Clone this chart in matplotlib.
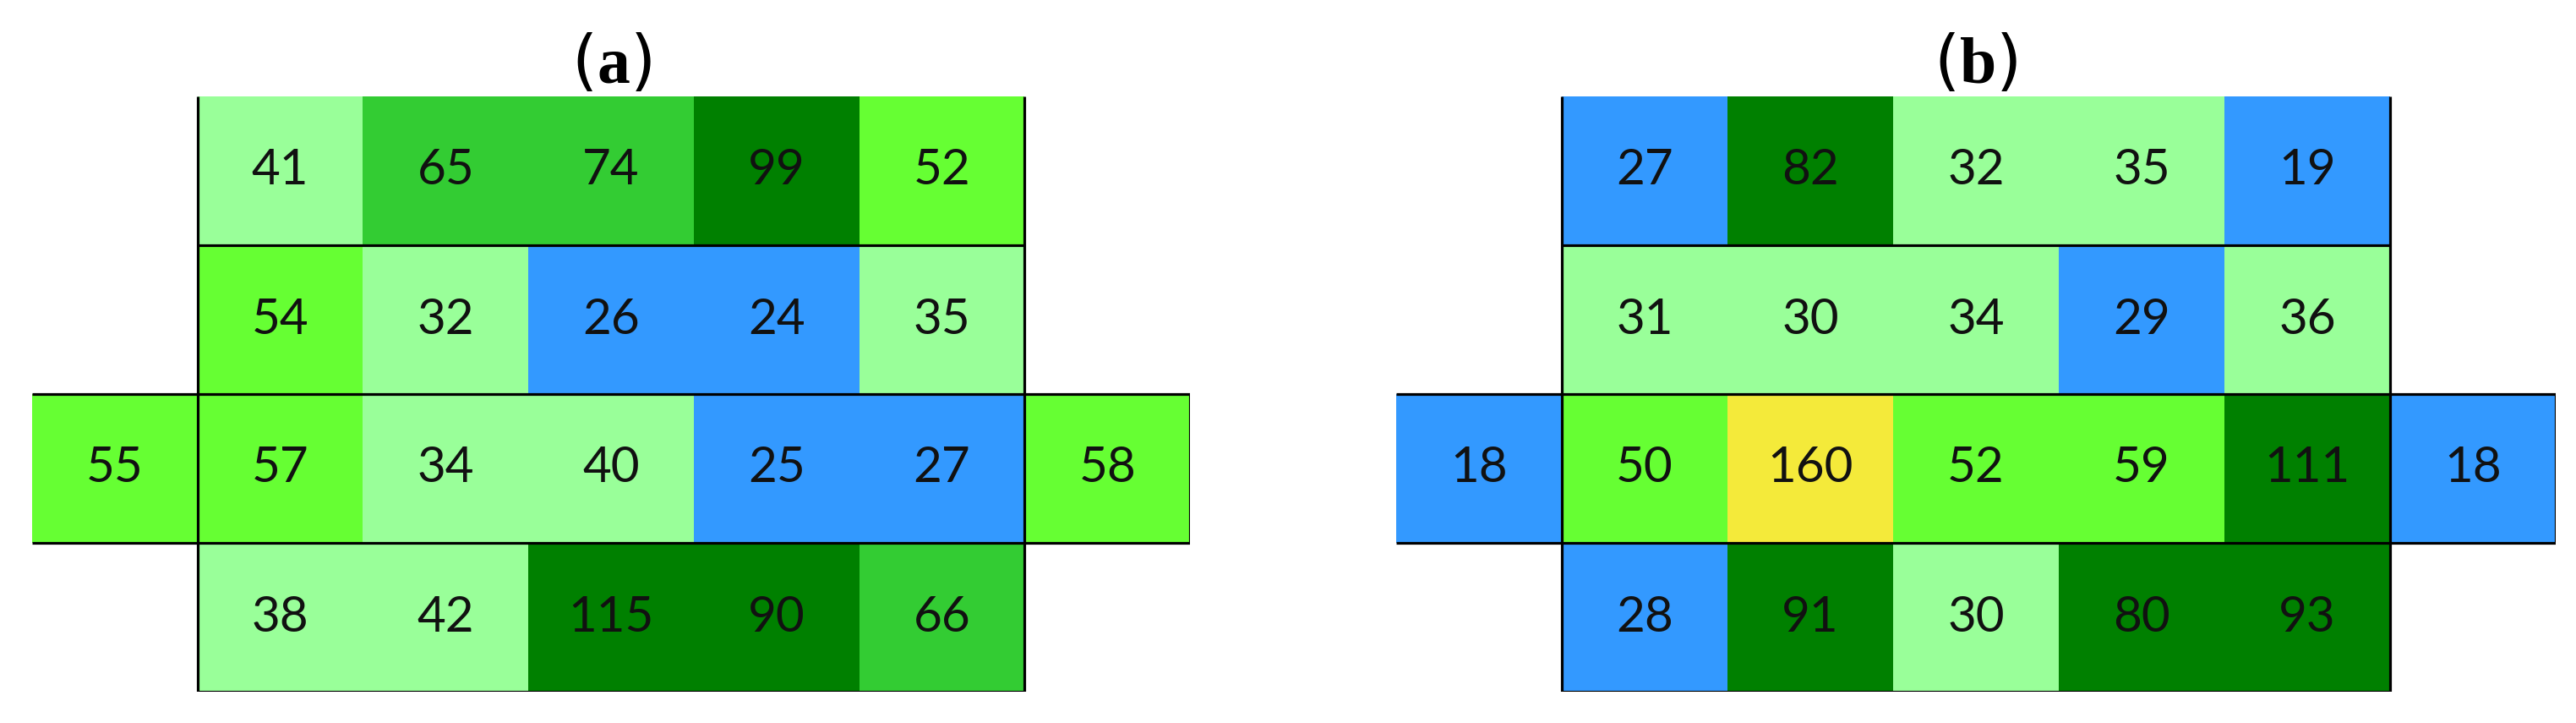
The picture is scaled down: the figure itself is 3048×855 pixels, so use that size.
import numpy as np
import matplotlib

matplotlib.use("Agg")
import matplotlib.pyplot as plt
from matplotlib.colors import ListedColormap, BoundaryNorm

nan = np.nan

# rows top -> bottom, columns left extra, 5 middle, right extra
VALUES_A = [
    [nan, 41, 65, 74, 99, 52, nan],
    [nan, 54, 32, 26, 24, 35, nan],
    [55, 57, 34, 40, 25, 27, 58],
    [nan, 38, 42, 115, 90, 66, nan],
]
VALUES_B = [
    [nan, 27, 82, 32, 35, 19, nan],
    [nan, 31, 30, 34, 29, 36, nan],
    [18, 50, 160, 52, 59, 111, 18],
    [nan, 28, 91, 30, 80, 93, nan],
]
PANEL_LABELS = ["a", "b"]

CLASS_BOUNDS = [0, 30, 50, 60, 80, 150, 1000]
CLASS_COLORS = ["#3399FF", "#99FF99", "#66FF33", "#33CC33", "#008000", "#F4EA3A"]

plt.rcParams["mathtext.fontset"] = "custom"
plt.rcParams["mathtext.bf"] = "Liberation Serif:bold"
plt.rcParams["mathtext.rm"] = "Liberation Serif"

cmap = ListedColormap(CLASS_COLORS)
norm = BoundaryNorm(CLASS_BOUNDS, cmap.N)

W, H = 3048, 855
fig = plt.figure(figsize=(W / 100, H / 100), dpi=100)

panel_boxes = [
    (38, 114, 1408, 818),
    (1652, 114, 3024, 818),
]


def draw_panel(ax, values, label):
    data = np.ma.masked_invalid(np.array(values, dtype=float))
    nrows, ncols = data.shape
    xe = np.arange(ncols + 1) - 1
    ye = np.arange(nrows + 1)
    ax.pcolormesh(xe, ye, data, cmap=cmap, norm=norm, edgecolors="none")
    for r in range(nrows):
        for c in range(ncols):
            if data.mask[r, c]:
                continue
            ax.text(c - 0.5, r + 0.5, f"{int(data[r, c])}", ha="center", va="center",
                    fontsize=42, family="Lato", color="#111111")

    lw = 2.3
    # horizontal rules
    ax.hlines([1, 4], 0, 5, color="black", lw=lw, zorder=3)
    ax.hlines([2, 3], -1, 6, color="black", lw=lw, zorder=3)
    # vertical rules
    ax.vlines([0, 5], 0, 4, color="black", lw=lw, zorder=3)
    ax.vlines([6], 2, 3, color="black", lw=lw, zorder=3)

    ax.set_xlim(-1, 6)
    ax.set_ylim(4, 0)
    ax.axis("off")
    ax.set_title(rf"($\mathbf{{{label}}}$)", fontsize=56, pad=6, color="black")


for (x0, y0, x1, y1), vals, lab in zip(panel_boxes, [VALUES_A, VALUES_B], PANEL_LABELS):
    ax = fig.add_axes([x0 / W, 1 - y1 / H, (x1 - x0) / W, (y1 - y0) / H])
    draw_panel(ax, vals, lab)

fig.savefig("out.png", dpi=100, facecolor="white")
plt.close(fig)
